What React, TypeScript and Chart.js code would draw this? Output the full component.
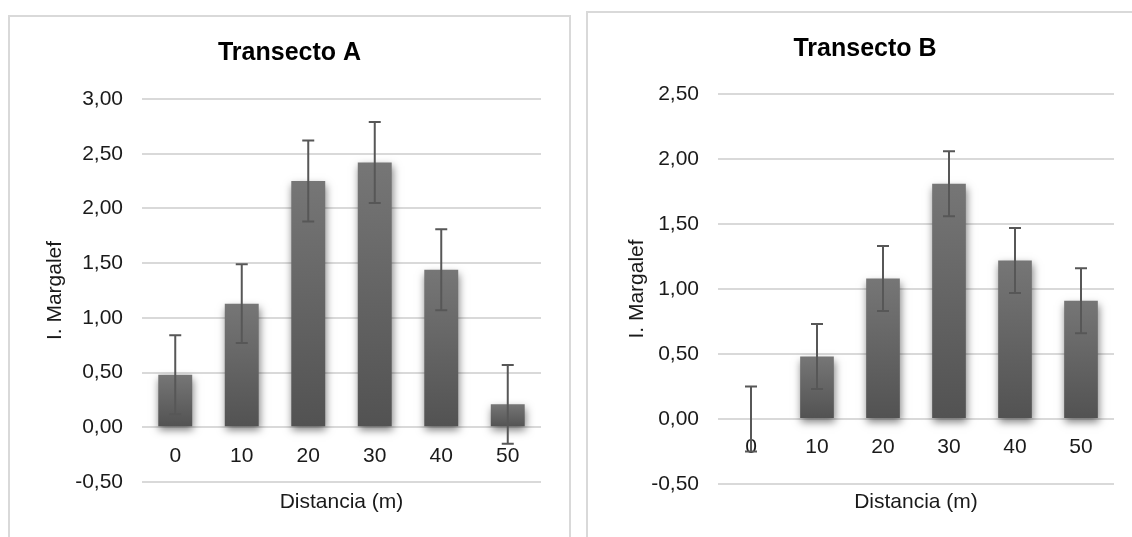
import React, { useEffect, useRef } from 'react';
import { Chart, registerables } from 'chart.js';

Chart.register(...registerables);

// ---- data ----
const categories = ['0', '10', '20', '30', '40', '50'];
const valuesA = [0.48, 1.13, 2.25, 2.42, 1.44, 0.21];
const errorsA = [0.36, 0.36, 0.37, 0.37, 0.37, 0.36];
const valuesB = [0, 0.48, 1.08, 1.81, 1.22, 0.91];
const errorsB = [0.25, 0.25, 0.25, 0.25, 0.25, 0.25];
const yRangeA = [-0.5, 3.0];
const yRangeB = [-0.5, 2.5];
const yStep = 0.5;
const titleA = 'Transecto A';
const titleB = 'Transecto B';
const xTitle = 'Distancia (m)';
const yTitle = 'I. Margalef';

const FONT = "'Liberation Sans', Arial, Helvetica, sans-serif";
const TEXT = '#1a1a1a';
const GRID = '#d9d9d9';

type Geo = {
  width: number;
  height: number;
  yAxisWidth: number;
  yTitleTop: number;
  titleTop: number;
  titleBottom: number;
  xTitleTop: number;
  xTitleBottom: number;
  padRight: number;
};

function Panel(props: {
  title: string;
  values: number[];
  errors: number[];
  range: number[];
  geo: Geo;
}) {
  const ref = useRef<HTMLCanvasElement | null>(null);
  useEffect(() => {
    const canvas = ref.current;
    if (!canvas) return;
    const { values, errors, range, geo, title } = props;

    const shadowPlugin = {
      id: 'barShadow',
      beforeDatasetsDraw(chart: any) {
        const c = chart.ctx;
        c.save();
        c.shadowColor = 'rgba(0,0,0,0.5)';
        c.shadowBlur = 8;
        c.shadowOffsetX = 1;
        c.shadowOffsetY = 4;
      },
      afterDatasetsDraw(chart: any) {
        chart.ctx.restore();
      },
    };

    const errorPlugin = {
      id: 'errorBars',
      afterDatasetsDraw(chart: any) {
        const c = chart.ctx;
        const meta = chart.getDatasetMeta(0);
        const ys = chart.scales.y;
        c.save();
        c.strokeStyle = '#575757';
        c.lineWidth = 2;
        meta.data.forEach((bar: any, i: number) => {
          const x = bar.x;
          const hi = ys.getPixelForValue(values[i] + errors[i]);
          const lo = ys.getPixelForValue(values[i] - errors[i]);
          c.beginPath();
          c.moveTo(x, hi);
          c.lineTo(x, lo);
          c.moveTo(x - 6, hi);
          c.lineTo(x + 6, hi);
          c.moveTo(x - 6, lo);
          c.lineTo(x + 6, lo);
          c.stroke();
        });
        c.restore();
      },
    };

    const chart = new Chart(canvas, {
      type: 'bar',
      data: {
        labels: categories,
        datasets: [
          {
            data: values,
            xAxisID: 'x',
            yAxisID: 'y',
            barPercentage: 0.51,
            categoryPercentage: 1,
            borderWidth: 0,
            backgroundColor: (ctx: any) => {
              const ch = ctx.chart;
              if (!ch.chartArea || ctx.type !== 'data') return '#636363';
              const ys = ch.scales.y;
              const v = values[ctx.dataIndex];
              const top = ys.getPixelForValue(v);
              const base = ys.getPixelForValue(0);
              if (Math.abs(base - top) < 1) return '#636363';
              const g = ch.ctx.createLinearGradient(0, top, 0, base);
              g.addColorStop(0, '#767676');
              g.addColorStop(1, '#525252');
              return g;
            },
          },
        ],
      },
      options: {
        animation: false,
        responsive: false,
        maintainAspectRatio: false,
        layout: { padding: { top: 0, left: 0, bottom: 0, right: 0 } },
        plugins: {
          legend: { display: false },
          tooltip: { enabled: false },
          title: {
            display: true,
            text: title,
            color: '#000',
            font: { family: FONT, size: 25, weight: 'bold' },
            padding: { top: geo.titleTop, bottom: geo.titleBottom },
          },
        },
        scales: {
          x: {
            type: 'category',
            position: { y: 0 } as any,
            grid: { display: false, drawTicks: false },
            border: { display: false },
            ticks: {
              color: TEXT,
              font: { family: FONT, size: 21 },
              padding: 16,
              maxRotation: 0,
            },
            afterFit: (s: any) => {
              s.height = 0;
            },
          },
          x2: {
            type: 'category',
            position: 'bottom',
            grid: { display: false, drawTicks: false },
            border: { display: false },
            ticks: { display: false },
            title: {
              display: true,
              text: xTitle,
              color: TEXT,
              font: { family: FONT, size: 21 },
              padding: { top: geo.xTitleTop, bottom: geo.xTitleBottom },
            },
          },
          y: {
            type: 'linear',
            position: 'left',
            min: range[0],
            max: range[1],
            grid: { color: GRID, lineWidth: 2, drawTicks: false },
            border: { display: false },
            ticks: {
              stepSize: yStep,
              color: TEXT,
              font: { family: FONT, size: 21 },
              padding: 19,
              callback: (v: any) => Number(v).toFixed(2).replace('.', ','),
            },
            title: {
              display: true,
              text: yTitle,
              color: TEXT,
              font: { family: FONT, size: 21 },
              padding: { top: geo.yTitleTop, bottom: 4 },
            },
            afterFit: (s: any) => {
              s.width = geo.yAxisWidth;
            },
          },
          yRight: {
            type: 'linear',
            position: 'right',
            display: true,
            grid: { display: false, drawTicks: false },
            border: { display: false },
            ticks: { display: false },
            afterFit: (s: any) => {
              s.width = geo.padRight;
            },
          },
        },
      },
      plugins: [shadowPlugin, errorPlugin],
    } as any);
    return () => chart.destroy();
  }, []);
  return (
    <canvas
      ref={ref}
      width={props.geo.width}
      height={props.geo.height}
      style={{ display: 'block', width: props.geo.width, height: props.geo.height }}
    />
  );
}

const geoA: Geo = {
  width: 559,
  height: 536,
  yAxisWidth: 132,
  yTitleTop: 32.4,
  titleTop: 21,
  titleBottom: 31,
  xTitleTop: 7.4,
  xTitleBottom: 38.4,
  padRight: 28,
};

const geoB: Geo = {
  width: 554,
  height: 540,
  yAxisWidth: 130,
  yTitleTop: 36.4,
  titleTop: 21,
  titleBottom: 30,
  xTitleTop: 5.4,
  xTitleBottom: 38.4,
  padRight: 28,
};

export default function App() {
  const box = (left: number, top: number, g: Geo): React.CSSProperties => ({
    position: 'absolute',
    left,
    top,
    width: g.width + 4,
    height: g.height + 4,
    border: '2px solid #d9d9d9',
    boxSizing: 'border-box',
    background: '#fff',
  });
  return (
    <div
      style={{
        position: 'fixed',
        left: 0,
        top: 0,
        width: 1132,
        height: 537,
        overflow: 'hidden',
        background: '#fff',
      }}
    >
      <div style={box(8, 15, geoA)}>
        <Panel title={titleA} values={valuesA} errors={errorsA} range={yRangeA} geo={geoA} />
      </div>
      <div style={box(586, 11, geoB)}>
        <Panel title={titleB} values={valuesB} errors={errorsB} range={yRangeB} geo={geoB} />
      </div>
    </div>
  );
}
